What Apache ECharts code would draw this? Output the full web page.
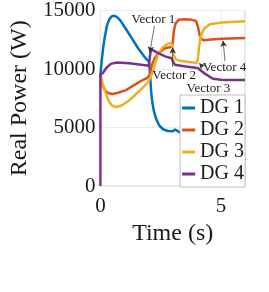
<!DOCTYPE html>
<html><head><meta charset="utf-8">
<script src="https://cdn.jsdelivr.net/npm/echarts@6/dist/echarts.min.js"></script>
<style>html,body{margin:0;padding:0;background:#fff}#c{width:269px;height:292px}</style>
</head><body><div id="c"></div>
<script>
const seriesNames = ['DG 1', 'DG 2', 'DG 3', 'DG 4'];
const seriesColors = ['#0072BD', '#D95319', '#EDB120', '#7E2F8E'];

const dg1T = [0, 0.06, 0.12, 0.18, 0.27, 0.37, 0.47, 0.56, 0.68, 0.81, 1.06, 1.32, 1.57, 1.82, 2.02, 2.06, 2.1, 2.15, 2.22, 2.32, 2.45, 2.6, 2.8, 3.0, 3.1, 3.18, 3.3, 3.5, 3.8, 4.0, 4.15, 4.4, 5.0, 6.0];
const dg1P = [9500, 10800, 11900, 12700, 13700, 14250, 14500, 14550, 14450, 14200, 13420, 12580, 11750, 11060, 10600, 9600, 8200, 7200, 6400, 5700, 5150, 4850, 4700, 4680, 4820, 4780, 4580, 4520, 4500, 4500, 4300, 4150, 4100, 4100];

const dg2T = [0, 0.05, 0.11, 0.2, 0.32, 0.49, 0.7, 1.06, 1.3, 1.57, 1.8, 1.95, 2.05, 2.13, 2.25, 2.4, 2.65, 2.96, 3.0, 3.05, 3.12, 3.25, 3.5, 3.8, 3.97, 4.05, 4.12, 4.2, 4.3, 4.6, 5.05, 6.0];
const dg2P = [9500, 8900, 8500, 8150, 7950, 7860, 7950, 8200, 8500, 8830, 9100, 9250, 9500, 10300, 10900, 11330, 11750, 11900, 12200, 13300, 13900, 14200, 14250, 14200, 14100, 13600, 12900, 12550, 12450, 12520, 12580, 12640];

const dg3T = [0, 0.08, 0.18, 0.28, 0.37, 0.5, 0.68, 0.9, 1.19, 1.45, 1.7, 1.9, 2.01, 2.1, 2.2, 2.3, 2.4, 2.58, 2.75, 2.93, 2.98, 3.04, 3.12, 3.3, 3.6, 3.85, 4.0, 4.05, 4.1, 4.16, 4.29, 4.54, 5.05, 6.0];
const dg3P = [9500, 8900, 8200, 7600, 7170, 6850, 6750, 6900, 7310, 7800, 8280, 8700, 8970, 9400, 9940, 10700, 11250, 11850, 12100, 12250, 12000, 11200, 10850, 10700, 10620, 10550, 10500, 11000, 12000, 12720, 13420, 13830, 13970, 14080];

const dg4T = [0, 0, 0.1, 0.24, 0.43, 0.68, 1.19, 1.7, 2.01, 2.05, 2.1, 2.17, 2.4, 2.71, 2.96, 3.02, 3.09, 3.53, 4.04, 4.15, 4.3, 4.45, 4.67, 5.0, 5.3, 6.0];
const dg4P = [0, 9500, 9650, 10080, 10440, 10560, 10500, 10360, 10280, 11000, 11700, 11800, 11350, 11060, 10920, 10600, 10360, 10220, 10080, 9900, 9650, 9450, 9170, 9080, 9060, 9060];

const xTicks = [0, 5];
const yTicks = [0, 5000, 10000, 15000];

const annoText = ['Vector 1', 'Vector 2', 'Vector 3', 'Vector 4'];
const annoT = [2.2, 3.06, 4.48, 5.15];
const annoP = [14250, 9420, 8330, 10080];
const arrowFromT = [2.24, 3.0, 4.25, 5.17];
const arrowFromP = [13670, 10170, 10170, 10670];
const arrowToT = [2.05, 3.0, 4.1, 5.09];
const arrowToP = [11420, 11830, 10500, 12420];

const allT = [dg1T, dg2T, dg3T, dg4T];
const allP = [dg1P, dg2P, dg3P, dg4P];
const FONT = 'Liberation Serif';

const series = seriesNames.map((name, i) => ({
  name: name,
  type: 'line',
  data: allT[i].map((t, j) => [t, allP[i][j]]),
  showSymbol: false,
  symbol: 'none',
  lineStyle: { width: 2.5, color: seriesColors[i] },
  itemStyle: { color: seriesColors[i] },
  animation: false,
  z: 2
}));

series.push({
  name: 'anno',
  type: 'line',
  data: [],
  animation: false,
  markLine: {
    silent: true,
    symbol: ['none', 'arrow'],
    symbolSize: [5, 6],
    label: { show: false },
    lineStyle: { color: '#333', width: 0.7, type: 'solid' },
    animation: false,
    data: annoT.map((_, k) => [
      { coord: [arrowFromT[k], arrowFromP[k]] },
      { coord: [arrowToT[k], arrowToP[k]] }
    ])
  },
  markPoint: {
    silent: true,
    symbol: 'circle',
    symbolSize: 0,
    animation: false,
    label: {
      show: true, position: 'inside', color: '#1a1a1a',
      fontFamily: FONT, fontSize: 13,
      formatter: p => p.name
    },
    data: annoT.map((t, k) => ({ name: annoText[k], coord: [t, annoP[k]] }))
  }
});

const chart = echarts.init(document.getElementById('c'), null, { renderer: 'canvas' });
chart.setOption({
  animation: false,
  backgroundColor: '#fff',
  grid: { left: 87, right: 24, top: 6, bottom: 106, show: true, borderColor: '#cfcfcf', borderWidth: 1, backgroundColor: 'transparent' },
  xAxis: {
    type: 'value', min: 0, max: 6, interval: 5,
    name: 'Time (s)', nameLocation: 'middle', nameGap: 35,
    nameTextStyle: { fontFamily: FONT, fontSize: 24, color: '#1a1a1a' },
    axisLine: { show: false }, axisTick: { show: false },
    axisLabel: { fontFamily: FONT, fontSize: 21, color: '#1a1a1a', margin: 10, showMaxLabel: false,
      formatter: v => xTicks.includes(v) ? String(v) : '' },
    splitLine: { show: true, lineStyle: { color: '#ececec', width: 1 } }
  },
  yAxis: {
    type: 'value', min: 0, max: 15000, interval: 5000,
    name: 'Real Power (W)', nameLocation: 'middle', nameGap: 61,
    nameTextStyle: { fontFamily: FONT, fontSize: 24, color: '#1a1a1a' },
    axisLine: { show: false }, axisTick: { show: false },
    axisLabel: { fontFamily: FONT, fontSize: 21, color: '#1a1a1a', margin: 5,
      formatter: v => yTicks.includes(v) ? String(v) : '' },
    splitLine: { show: true, lineStyle: { color: '#ececec', width: 1 } }
  },
  legend: {
    data: seriesNames,
    orient: 'vertical', right: 24, bottom: 105,
    backgroundColor: '#fff', borderColor: '#bdbdbd', borderWidth: 1,
    padding: [3, 1, 3, 2], itemGap: 2, itemWidth: 13, itemHeight: 3,
    icon: 'rect',
    textStyle: { fontFamily: FONT, fontSize: 20, color: '#1a1a1a', lineHeight: 20 }
  },
  series: series
});
</script></body></html>
